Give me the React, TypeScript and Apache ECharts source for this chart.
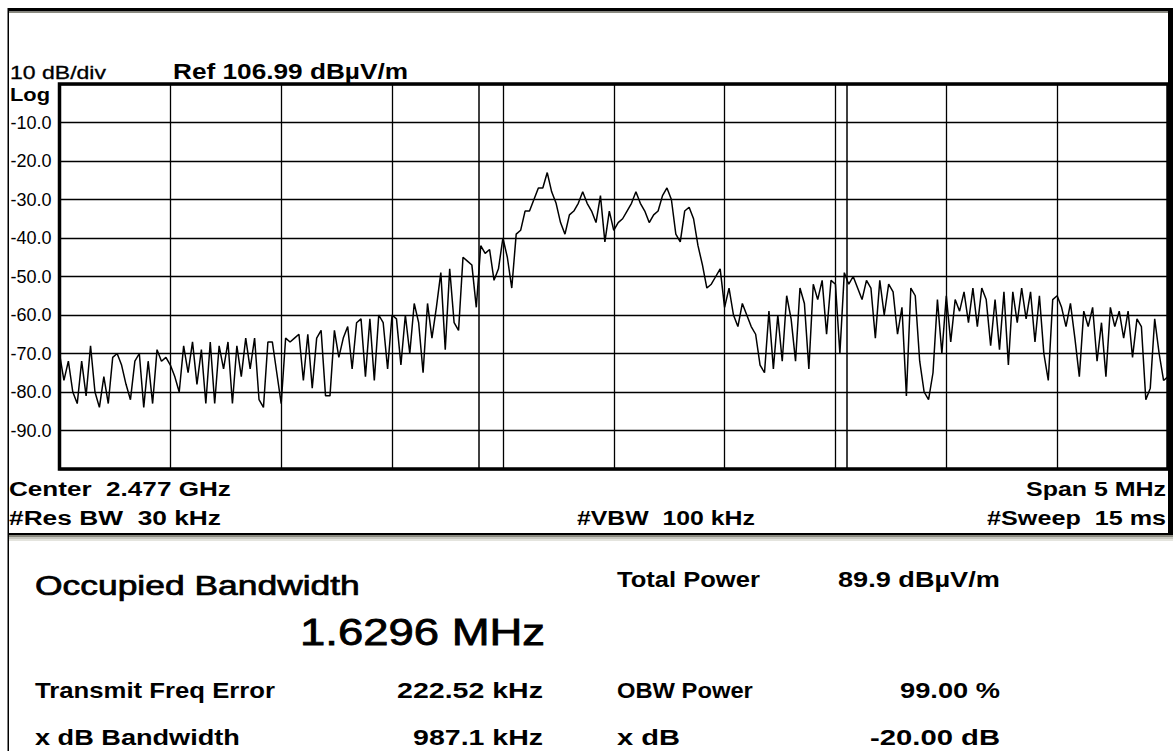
import React, { useEffect, useRef } from 'react';
import * as echarts from 'echarts';

// Frequency axis (MHz)
const START_MHZ = 2474.5;
const SPAN_MHZ = 5;
const GRID_STEP_MHZ = 0.5;

// Trace values (dB relative to reference), read division by division
const traceDiv0 = [-70, -77, -72, -80, -83, -72, -81, -68, -80, -84, -76, -83, -71, -70, -73, -78, -82, -72, -70, -84, -72, -83, -69, -72, -71, -73];
const traceDiv1 = [-76, -80, -68, -75, -67, -78, -69, -83, -67, -83, -68, -74, -67, -83, -68, -76, -66, -74, -66, -82, -84, -67, -67, -75, -83];
const traceDiv2 = [-66, -67, -66, -65, -77, -65, -79, -66, -64, -81, -81, -64, -71, -66, -63, -74, -62, -61, -76, -61, -77, -60, -62, -74, -60];
const traceDiv3 = [-61, -73, -60, -70, -57, -62, -75, -57, -66, -58, -49, -69, -48, -62, -64, -45, -46, -47, -58, -42, -44, -43, -51, -48, -40];
const traceDiv4 = [-45, -53, -39, -38, -33, -33, -30, -27, -27, -23, -28, -31, -36, -39, -34, -33, -31, -28, -31, -33, -36, -29, -41, -33, -38];
const traceDiv5 = [-36, -35, -33, -31, -28, -31, -33, -36, -34, -33, -29, -27, -30, -39, -41, -33, -32, -35, -42, -47, -53, -52, -50, -48, -58];
const traceDiv6 = [-53, -60, -63, -57, -60, -63, -65, -73, -75, -59, -74, -60, -72, -55, -61, -72, -53, -57, -74, -52, -56, -51, -65, -51, -52];
const traceDiv7 = [-70, -49, -52, -50, -53, -56, -51, -53, -66, -51, -60, -52, -54, -65, -58, -81, -53, -55, -72, -80, -82, -75, -56, -70, -55];
const traceDiv8 = [-67, -56, -59, -54, -62, -53, -63, -53, -56, -68, -56, -69, -54, -73, -54, -62, -53, -61, -54, -67, -55, -70, -77, -56, -55];
const traceDiv9 = [-58, -63, -57, -66, -76, -59, -63, -58, -72, -62, -76, -58, -63, -59, -66, -59, -71, -61, -63, -82, -79, -61, -70, -77, -76];

const traceDb = [
  ...traceDiv0, ...traceDiv1, ...traceDiv2, ...traceDiv3, ...traceDiv4,
  ...traceDiv5, ...traceDiv6, ...traceDiv7, ...traceDiv8, ...traceDiv9,
];

// Occupied-bandwidth marker lines (MHz)
const obwMarkersMHz = [2476.393, 2478.045];

// Header / footer / results texts
const headerScale = '10 dB/div';
const headerLog = 'Log';
const headerRef = 'Ref 106.99 dBµV/m';
const footerCenter = 'Center  2.477 GHz';
const footerSpan = 'Span 5 MHz';
const footerRbw = '#Res BW  30 kHz';
const footerVbw = '#VBW  100 kHz';
const footerSweep = '#Sweep  15 ms';
const resultTitle = 'Occupied Bandwidth';
const resultObw = '1.6296 MHz';
const resultLabels = ['Total Power', 'Transmit Freq Error', 'OBW Power', 'x dB Bandwidth', 'x dB'];
const resultValues = ['89.9 dBµV/m', '222.52 kHz', '99.00 %', '987.1 kHz', '-20.00 dB'];

const FONT = '"Liberation Sans", Arial, Helvetica, sans-serif';

let measureCtx: CanvasRenderingContext2D | null = null;
function measure(text: string, size: number, weight: string): number {
  if (!measureCtx) measureCtx = document.createElement('canvas').getContext('2d');
  measureCtx!.font = `${weight} ${size}px "Liberation Sans", Arial, sans-serif`;
  return measureCtx!.measureText(text).width;
}

function txt(str: string, x: number, y: number, size: number, weight: string, align: 'left' | 'right' | 'center', width?: number, heavy?: number) {
  const w = measure(str, size, weight);
  const sx = width ? width / w : 1;
  const style: any = {
    text: str,
    fontSize: size,
    fontWeight: weight,
    fontFamily: FONT,
    fill: '#000',
    align,
    verticalAlign: 'middle',
    textAlign: align,
    textVerticalAlign: 'middle',
  };
  if (heavy) {
    style.stroke = '#000';
    style.lineWidth = heavy;
  }
  return { type: 'text', x, y, scaleX: sx, silent: true, style };
}

export default function App() {
  const ref = useRef<HTMLDivElement>(null);

  useEffect(() => {
    if (!ref.current) return;
    const chart = echarts.init(ref.current, undefined, { renderer: 'svg' });

    const step = SPAN_MHZ / (traceDb.length - 1);
    const seriesData = traceDb.map((v, i) => [START_MHZ + i * step, v]);

    const graphics: any[] = [
      // outer frame
      { type: 'rect', shape: { x: 8, y: 8, width: 1165, height: 3.5 }, style: { fill: '#000' }, silent: true },
      { type: 'rect', shape: { x: 9, y: 11.5, width: 1159, height: 1.5 }, style: { fill: '#8a8a80' }, silent: true },
      { type: 'rect', shape: { x: 7.5, y: 8, width: 1.5, height: 743 }, style: { fill: '#000' }, silent: true },
      { type: 'rect', shape: { x: 1168, y: 8, width: 5, height: 527 }, style: { fill: '#000' }, silent: true },
      { type: 'rect', shape: { x: 8, y: 533, width: 1165, height: 2 }, style: { fill: '#000' }, silent: true },
      { type: 'rect', shape: { x: 9, y: 535, width: 1164, height: 2 }, style: { fill: '#8a8a80' }, silent: true },
      { type: 'rect', shape: { x: 9, y: 537, width: 1164, height: 2 }, style: { fill: '#c8c8c0' }, silent: true },
      { type: 'rect', shape: { x: 9, y: 539, width: 1164, height: 2 }, style: { fill: '#e4e4de' }, silent: true },
      // header
      txt(headerScale, 10, 72, 18, 'normal', 'left', 96, 0.3),
      txt(headerLog, 10, 95, 18, 'bold', 'left', 40),
      txt(headerRef, 173, 71, 22, 'bold', 'left', 235),
      // footer
      txt(footerCenter, 9, 489, 21, 'bold', 'left', 222),
      txt(footerRbw, 9, 518, 21, 'bold', 'left', 212),
      txt(footerVbw, 577, 518, 21, 'bold', 'left', 178),
      txt(footerSpan, 1166, 489, 21, 'bold', 'right', 140),
      txt(footerSweep, 1166, 518, 21, 'bold', 'right', 179),
      // results
      txt(resultTitle, 35, 586, 27, 'normal', 'left', 325, 0.7),
      txt(resultObw, 545, 632, 37, 'normal', 'right', 245, 0.8),
      txt(resultLabels[0], 617, 579, 22, 'bold', 'left', 143),
      txt(resultValues[0], 838, 579, 22, 'bold', 'left', 162),
      txt(resultLabels[1], 35, 690, 22, 'bold', 'left', 240),
      txt(resultValues[1], 543, 690, 22, 'bold', 'right', 146),
      txt(resultLabels[2], 617, 690, 22, 'bold', 'left', 136),
      txt(resultValues[2], 1000, 690, 22, 'bold', 'right', 100),
      txt(resultLabels[3], 35, 737, 22, 'bold', 'left', 205),
      txt(resultValues[3], 543, 737, 22, 'bold', 'right', 130),
      txt(resultLabels[4], 617, 737, 22, 'bold', 'left', 63),
      txt(resultValues[4], 1000, 737, 22, 'bold', 'right', 130),
    ];

    chart.setOption({
      animation: false,
      backgroundColor: '#ffffff',
      grid: {
        left: 59.5,
        top: 84,
        width: 1108.5,
        height: 385,
        show: true,
        borderColor: '#000',
        borderWidth: 3.5,
        backgroundColor: 'transparent',
        containLabel: false,
      },
      xAxis: {
        type: 'value',
        min: START_MHZ,
        max: START_MHZ + SPAN_MHZ,
        interval: GRID_STEP_MHZ,
        axisLabel: { show: false },
        axisTick: { show: false },
        axisLine: { show: false },
        splitLine: { show: true, lineStyle: { color: '#000', width: 1.3 } },
      },
      yAxis: {
        type: 'value',
        min: -100,
        max: 0,
        interval: 10,
        axisTick: { show: false },
        axisLine: { show: false },
        axisLabel: {
          show: true,
          margin: 8,
          fontSize: 18,
          fontFamily: FONT,
          color: '#000',
          formatter: (v: number) => (v === 0 || v === -100 ? '' : v.toFixed(1)),
        },
        splitLine: { show: true, lineStyle: { color: '#000', width: 1.3 } },
      },
      series: [
        {
          type: 'line',
          data: seriesData,
          symbol: 'none',
          lineStyle: { color: '#000', width: 1.5 },
          silent: true,
          markLine: {
            silent: true,
            symbol: ['none', 'none'],
            label: { show: false },
            lineStyle: { color: '#000', width: 1.5, type: 'solid' },
            data: obwMarkersMHz.map((m) => ({ xAxis: m })),
          },
          z: 3,
        },
      ],
      graphic: graphics,
    });

    return () => chart.dispose();
  }, []);

  return (
    <div
      ref={ref}
      style={{ position: 'fixed', left: 0, top: 0, width: 1173, height: 751, background: '#fff' }}
    />
  );
}
